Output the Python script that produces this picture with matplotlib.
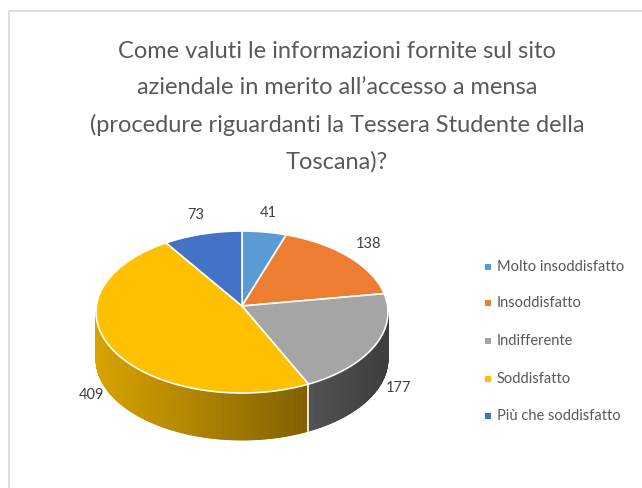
import numpy as np
import matplotlib.pyplot as plt
from matplotlib.patches import Rectangle, Polygon
from matplotlib.collections import PolyCollection

# dati del grafico
categorie = ["Molto insoddisfatto", "Insoddisfatto", "Indifferente", "Soddisfatto", "Più che soddisfatto"]
valori = [41, 138, 177, 409, 73]
colori = ["#5B9BD5", "#ED7D31", "#A5A5A5", "#FFC000", "#4472C4"]
titolo = ("Come valuti le informazioni fornite sul sito\n"
          "aziendale in merito all\u2019accesso a mensa\n"
          "(procedure riguardanti la Tessera Studente della\n"
          "Toscana)?")

plt.rcParams['font.family'] = ['Lato', 'DejaVu Sans']

W, H = 642, 488
fig = plt.figure(figsize=(W / 100, H / 100), dpi=100)
ax = fig.add_axes([0, 0, 1, 1])
ax.set_xlim(0, W)
ax.set_ylim(H, 0)
ax.axis('off')

# bordo del grafico (solo lato sinistro e superiore visibili)
ax.add_patch(Rectangle((8.5, 10.5), 700, 600, fill=False, ec="#D9D9D9", lw=1.2))

# geometria della torta 3D
cx, cy = 242, 312
a, b = 146, 81
depth = 47


def punto(t):
    return cx + a * np.cos(t), cy - b * np.sin(t)


def ombra(col, t):
    rgb = np.array(plt.matplotlib.colors.to_rgb(col))
    f = 0.85 - 0.48 * (np.cos(t) + 1) / 2
    return tuple(rgb * f)


tot = sum(valori)
cum = np.concatenate([[0], np.cumsum(valori)]) / tot
# angoli matematici (radianti), partenza a ore 12 in senso orario
inizio = np.pi / 2 - 2 * np.pi * cum[:-1]
fine = np.pi / 2 - 2 * np.pi * cum[1:]

# pareti laterali (solo parte frontale)
for i in range(len(valori)):
    t0, t1 = fine[i], inizio[i]
    for k in (-1, 0, 1):
        s0 = max(t0 + 2 * np.pi * k, np.pi)
        s1 = min(t1 + 2 * np.pi * k, 2 * np.pi)
        if s1 <= s0:
            continue
        ts = np.linspace(s0, s1, max(int((s1 - s0) * 120), 3))
        quads, cols = [], []
        for j in range(len(ts) - 1):
            x0, y0 = punto(ts[j])
            x1, y1 = punto(ts[j + 1])
            quads.append([(x0, y0), (x1, y1), (x1, y1 + depth), (x0, y0 + depth)])
            cols.append(ombra(colori[i], (ts[j] + ts[j + 1]) / 2))
        ax.add_collection(PolyCollection(quads, facecolors=cols, edgecolors=cols, lw=0.6))

# linee bianche di separazione sulle pareti
for t in inizio:
    tt = t % (2 * np.pi)
    if np.pi < tt < 2 * np.pi:
        x0, y0 = punto(tt)
        ax.plot([x0, x0], [y0, y0 + depth], color="white", lw=1.2)

# facce superiori
for i in range(len(valori)):
    ts = np.linspace(inizio[i], fine[i], 200)
    xs, ys = punto(ts)
    pts = [(cx, cy - 6)] + list(zip(xs, ys))
    ax.add_patch(Polygon(pts, closed=True, fc=colori[i], ec="white", lw=1.2))

# etichette dei dati
for i, v in enumerate(valori):
    tm = (inizio[i] + fine[i]) / 2
    x = cx + a * 1.18 * np.cos(tm)
    y = cy - b * 1.24 * np.sin(tm)
    if np.sin(tm) < 0:
        y += depth * 0.72
    ax.text(x, y, str(v), fontsize=10.5, color="#404040", ha="center", va="center")

# titolo
ax.text(337, 107, titolo, fontsize=17, color="#595959", ha="center", va="center",
        linespacing=1.88)

# legenda
ly = [267, 303, 341, 379, 416]
for i, cat in enumerate(categorie):
    ax.add_patch(Rectangle((485, ly[i] - 3), 6, 6, fc=colori[i], ec="none"))
    ax.text(497, ly[i], cat, fontsize=10.5, color="#595959", ha="left", va="center")

plt.savefig("out.png", dpi=100)
